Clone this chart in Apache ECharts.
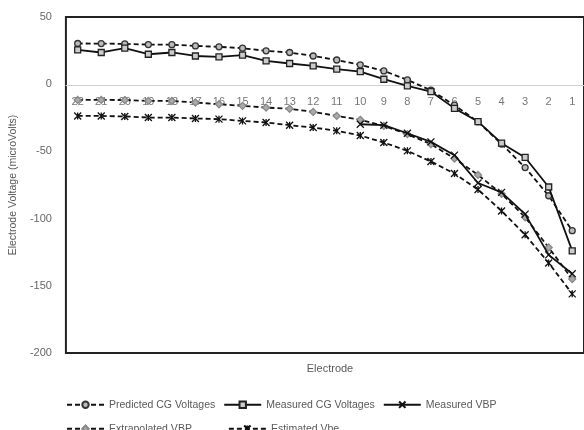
<!DOCTYPE html>
<html><head><meta charset="utf-8">
<script src="https://cdn.jsdelivr.net/npm/echarts@6/dist/echarts.min.js"></script>
<style>html,body{margin:0;padding:0;background:#fff}#c{width:584px;height:430px}</style>
</head><body><div id="c"></div>
<script>
const categories = ['22','21','20','19','18','17','16','15','14','13','12','11','10','9','8','7','6','5','4','3','2','1'];
const predictedCG = [30.3,30.2,30,29.5,29.4,28.5,27.8,26.8,24.8,23.6,21,18,14.4,9.9,3.2,-4.5,-15.6,-28,-44.5,-62,-83,-109];
const measuredCG = [25.5,23.6,26.8,22.3,23.6,21,20.3,21.6,17.4,15.4,13.6,11.2,9.4,3.7,-1.2,-5.5,-18,-27.8,-43.9,-54.5,-76.5,-124];
const measuredVBP = [null,null,null,null,null,null,null,null,null,null,null,null,-29.8,-30.5,-36.5,-42.9,-52.8,-73.5,-80.5,-96.7,-127,-141];
const extrapolatedVBP = [-11.7,-11.7,-11.8,-12.4,-12.5,-13.6,-14.9,-16.1,-17.4,-18.3,-20.6,-23.6,-26.5,-31,-37.2,-44.6,-55.3,-67.5,-81.5,-99,-121.5,-145];
const estimatedVbe = [-23.6,-23.6,-24,-24.8,-24.8,-25.5,-26,-27.3,-28.5,-30.5,-32.2,-34.7,-38.2,-43.4,-49.6,-57.5,-66.5,-78.4,-94.3,-112,-133,-156];
const yTicks = {min:-200, max:50, interval:50};

const X = 'path://M0,0L10,10M10,0L0,10';
const STAR = 'path://M0,0L10,10M10,0L0,10M5,0L5,10';
const font = 'Liberation Sans';
function s(name, data, dashed, symbol, size, mcolor, fill){
  return {name, type:'line', data, symbol, symbolSize:size, connectNulls:false,
    lineStyle:{color:'#111', width:1.8, type: dashed?[5,3]:'solid'},
    itemStyle:{color: fill, borderColor: mcolor, borderWidth:1.3},
    emphasis:{disabled:true}, z: dashed?2:3};
}
const chart = echarts.init(document.getElementById('c'));
chart.setOption({
  animation:false,
  textStyle:{fontFamily:font},
  grid:{left:64, top:17, bottom:77, right:-8, show:true, borderColor:'#222', borderWidth:2, backgroundColor:'#fff'},
  title:{text:'Electrode', left:325, top:358, textAlign:'center', textStyle:{fontSize:11, fontWeight:'normal', color:'#595959', fontFamily:font}},
  xAxis:{type:'category', data:categories, boundaryGap:true, position:'bottom', offset:-268,
    axisLine:{onZero:false, lineStyle:{color:'#d0d0d0', width:1}}, axisTick:{show:false},
    axisLabel:{color:'#777', fontSize:11, margin:11, interval:0}, splitLine:{show:false}},
  yAxis:{type:'value', min:yTicks.min, max:yTicks.max, interval:yTicks.interval,
    name:'Electrode Voltage (microVolts)', nameLocation:'middle', nameGap:40, nameRotate:90,
    nameTextStyle:{color:'#595959', fontSize:10.5},
    axisLine:{show:false}, axisTick:{show:false}, splitLine:{show:false},
    axisLabel:{color:'#666', fontSize:11, margin:14}},
  legend:[
    {left:61, top:394, itemWidth:37, itemHeight:8, itemGap:8, textStyle:{color:'#595959', fontSize:10.5},
     data:['Predicted CG Voltages','Measured CG Voltages','Measured VBP']},
    {left:61, top:418, itemWidth:37, itemHeight:8, itemGap:36, textStyle:{color:'#595959', fontSize:10.5},
     data:['Extrapolated VBP','Estimated Vbe']}
  ],
  series:[
    s('Predicted CG Voltages', predictedCG, true, 'circle', 6, '#333', '#bbb'),
    s('Measured CG Voltages', measuredCG, false, 'rect', 6, '#222', '#ccc'),
    s('Measured VBP', measuredVBP, false, X, 7, '#111', 'none'),
    s('Extrapolated VBP', extrapolatedVBP, true, 'diamond', 7, '#888', '#aaa'),
    s('Estimated Vbe', estimatedVbe, true, STAR, 7, '#111', 'none')
  ]
});
</script></body></html>
